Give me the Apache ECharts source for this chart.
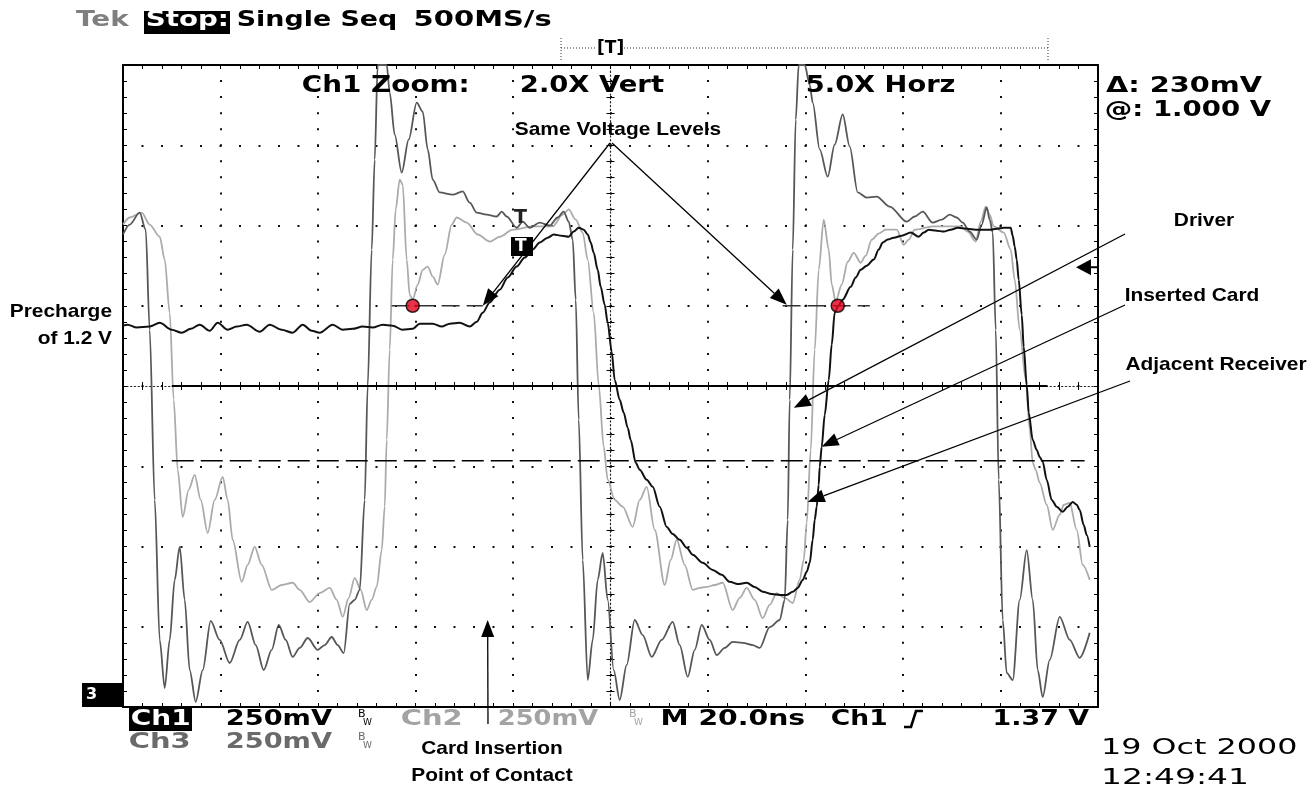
<!DOCTYPE html>
<html><head><meta charset="utf-8">
<script src="https://cdn.jsdelivr.net/npm/echarts@6/dist/echarts.min.js"></script>
<style>html,body{margin:0;padding:0;background:#fff;}#c{width:1310px;height:786px;}</style>
</head><body><div id="c"></div><script>
// ---- data: time in ns (4 ns/div after 5X zoom), volts (0.25 V/div) ----
const ch1 = [[0,1.188],[0.193,1.191],[0.562,1.182],[1.095,1.185],[1.506,1.197],[1.998,1.175],[2.408,1.166],[2.777,1.178],[3.147,1.191],[3.557,1.172],[3.885,1.197],[4.295,1.175],[4.665,1.185],[5.075,1.191],[5.608,1.169],[6.018,1.191],[6.511,1.175],[6.962,1.166],[7.372,1.191],[7.742,1.172],[8.070,1.166],[8.603,1.191],[9.014,1.175],[9.424,1.178],[9.834,1.185],[10.244,1.182],[10.654,1.191],[11.065,1.188],[11.475,1.175],[11.885,1.178],[12.172,1.194],[12.706,1.194],[13.075,1.185],[13.403,1.194],[13.813,1.197],[14.224,1.185],[14.511,1.200],[14.757,1.228],[15.044,1.260],[15.454,1.300],[15.783,1.338],[16.152,1.372],[16.480,1.400],[16.808,1.425],[17.096,1.447],[17.424,1.462],[17.670,1.472],[17.998,1.468],[18.286,1.465],[18.491,1.481],[18.696,1.493],[18.901,1.487],[19.065,1.472],[19.188,1.447],[19.311,1.415],[19.475,1.362],[19.598,1.309],[19.762,1.253],[19.885,1.197],[20.049,1.107],[20.172,1.019],[20.378,0.957],[20.542,0.917],[20.706,0.870],[20.829,0.832],[21.034,0.761],[21.198,0.739],[21.485,0.708],[21.732,0.686],[22.019,0.624],[22.306,0.561],[22.552,0.539],[22.839,0.521],[23.127,0.496],[23.373,0.474],[23.783,0.449],[24.193,0.427],[24.563,0.412],[24.891,0.390],[25.219,0.383],[25.588,0.387],[25.916,0.374],[26.244,0.359],[26.614,0.352],[26.942,0.349],[27.229,0.349],[27.476,0.359],[27.681,0.371],[27.886,0.396],[28.050,0.421],[28.173,0.449],[28.296,0.521],[28.378,0.583],[28.460,0.624],[28.542,0.692],[28.583,0.748],[28.665,0.811],[28.788,0.910],[28.953,1.019],[29.076,1.129],[29.198,1.228],[29.322,1.247],[29.526,1.269],[29.854,1.309],[30.060,1.338],[30.265,1.362],[30.511,1.375],[30.798,1.394],[31.004,1.425],[31.168,1.447],[31.373,1.456],[31.619,1.462],[31.947,1.468],[32.316,1.478],[32.644,1.465],[32.850,1.478],[33.055,1.487],[33.383,1.484],[33.670,1.481],[33.957,1.487],[34.245,1.493],[34.614,1.490],[34.983,1.487],[35.270,1.487],[35.558,1.487],[35.845,1.490],[36.132,1.493],[36.419,1.493],[36.501,1.468],[36.583,1.434],[36.665,1.394],[36.747,1.331],[36.870,1.222],[36.952,1.122],[37.076,1.004],[37.158,0.917],[37.322,0.832],[37.486,0.801],[37.609,0.779],[37.732,0.764],[37.896,0.708],[38.101,0.645],[38.306,0.624],[38.553,0.608],[38.758,0.624],[38.963,0.639],[39.127,0.630],[39.250,0.614],[39.414,0.567],[39.537,0.536],[39.660,0.499]];
const ch2 = [[0,1.503],[0.275,1.525],[0.767,1.540],[1.095,1.503],[1.506,1.465],[1.711,1.394],[1.916,1.228],[2.080,0.957],[2.244,0.739],[2.449,0.592],[2.695,0.677],[2.942,0.723],[3.188,0.645],[3.475,0.542],[3.762,0.645],[4.090,0.717],[4.295,0.645],[4.500,0.521],[4.870,0.390],[5.116,0.443],[5.403,0.499],[5.690,0.443],[6.101,0.365],[6.511,0.380],[6.962,0.387],[7.249,0.365],[7.660,0.327],[8.070,0.355],[8.480,0.371],[8.767,0.334],[9.014,0.281],[9.260,0.340],[9.506,0.402],[9.752,0.365],[9.998,0.302],[10.203,0.334],[10.408,0.374],[10.614,0.489],[10.737,0.624],[10.819,0.832],[10.942,1.113],[11.065,1.394],[11.188,1.550],[11.352,1.643],[11.475,1.627],[11.639,1.394],[11.762,1.284],[11.885,1.269],[12.090,1.316],[12.295,1.362],[12.501,1.372],[12.706,1.341],[12.911,1.316],[13.198,1.409],[13.485,1.503],[13.690,1.525],[14.101,1.509],[14.552,1.472],[15.044,1.450],[15.454,1.465],[15.988,1.487],[16.808,1.497],[17.629,1.497],[18.039,1.534],[18.286,1.550],[18.573,1.518],[18.860,1.478],[19.065,1.394],[19.311,1.228],[19.516,1.004],[19.721,0.811],[19.885,0.708],[20.172,0.645],[20.501,0.624],[20.911,0.561],[21.198,0.645],[21.485,0.686],[21.814,0.552],[22.224,0.380],[22.470,0.458],[22.716,0.521],[23.044,0.443],[23.373,0.365],[23.660,0.371],[23.947,0.374],[24.275,0.380],[24.604,0.387],[25.013,0.302],[25.301,0.340],[25.588,0.371],[25.916,0.334],[26.244,0.277],[26.532,0.318],[26.819,0.355],[27.147,0.340],[27.476,0.324],[27.763,0.396],[27.927,0.458],[28.050,0.574],[28.214,0.801],[28.378,1.113],[28.542,1.362],[28.747,1.518],[28.953,1.425],[29.076,1.316],[29.240,1.263],[29.486,1.316],[29.732,1.387],[29.978,1.415],[30.265,1.384],[30.470,1.406],[30.717,1.456],[31.004,1.475],[31.291,1.487],[31.742,1.487],[32.029,1.440],[32.234,1.456],[32.480,1.487],[33.219,1.497],[33.793,1.497],[34.368,1.497],[34.655,1.481],[34.983,1.450],[35.188,1.512],[35.393,1.559],[35.558,1.534],[35.722,1.497],[36.132,1.478],[36.419,1.425],[36.583,1.331],[36.788,1.175],[37.035,1.019],[37.199,0.864],[37.322,0.761],[37.445,0.739],[37.609,0.698],[37.896,0.630],[38.142,0.552],[38.430,0.599],[38.594,0.630],[38.840,0.636],[39.127,0.552],[39.373,0.443],[39.660,0.396]];
const ch3 = [[0,1.472],[0.275,1.503],[0.685,1.540],[0.931,1.487],[1.095,1.175],[1.301,0.645],[1.506,0.209],[1.711,0.059],[1.916,0.209],[2.121,0.396],[2.326,0.499],[2.531,0.334],[2.736,0.115],[2.983,0.016],[3.270,0.115],[3.598,0.268],[3.967,0.209],[4.377,0.137],[4.788,0.209],[5.116,0.265],[5.444,0.193],[5.772,0.115],[6.101,0.178],[6.388,0.256],[6.675,0.209],[6.962,0.156],[7.249,0.184],[7.578,0.215],[7.988,0.178],[8.275,0.193],[8.562,0.218],[8.808,0.193],[9.055,0.168],[9.301,0.321],[9.506,0.334],[9.711,0.365],[9.916,0.645],[10.039,1.001],[10.203,1.425],[10.326,1.705],[10.449,2.0],[10.819,2.0],[10.942,1.914],[11.147,1.783],[11.434,1.665],[11.721,1.768],[12.049,1.883],[12.295,1.855],[12.501,1.737],[12.706,1.643],[12.993,1.603],[13.526,1.596],[13.936,1.606],[14.224,1.571],[14.511,1.540],[14.921,1.534],[15.331,1.528],[15.537,1.543],[15.742,1.528],[16.152,1.493],[16.398,1.512],[16.685,1.493],[17.096,1.509],[17.506,1.500],[17.834,1.525],[18.080,1.543],[18.286,1.512],[18.450,1.456],[18.573,1.269],[18.696,0.895],[18.860,0.458],[19.065,0.084],[19.270,0.209],[19.475,0.396],[19.680,0.480],[19.885,0.334],[20.131,0.115],[20.378,0.022],[20.665,0.131],[20.993,0.271],[21.321,0.224],[21.691,0.156],[22.101,0.209],[22.552,0.265],[22.839,0.193],[23.168,0.094],[23.455,0.178],[23.742,0.256],[24.070,0.209],[24.357,0.162],[24.685,0.184],[25.013,0.203],[25.424,0.200],[25.834,0.193],[26.121,0.184],[26.532,0.249],[26.942,0.271],[27.147,0.334],[27.270,0.583],[27.352,0.957],[27.476,1.425],[27.599,1.830],[27.722,2.0],[27.968,2.0],[28.173,1.939],[28.296,1.883],[28.583,1.737],[28.911,1.652],[29.198,1.752],[29.526,1.846],[29.813,1.746],[30.142,1.603],[30.511,1.587],[30.921,1.590],[31.455,1.559],[32.152,1.512],[32.480,1.528],[32.808,1.543],[33.219,1.509],[33.588,1.518],[33.916,1.534],[34.203,1.525],[34.450,1.509],[34.737,1.481],[35.024,1.456],[35.229,1.503],[35.434,1.556],[35.558,1.518],[35.681,1.478],[35.804,1.175],[35.927,0.708],[36.091,0.271],[36.255,0.106],[36.501,0.084],[36.788,0.334],[37.076,0.489],[37.322,0.334],[37.527,0.115],[37.732,0.031],[38.019,0.147],[38.430,0.281],[38.840,0.209],[39.250,0.153],[39.660,0.231]];
const cursorSolid = [[2.0,1.000],[37.93,1.000]];
const cursorDashed = [[2.0,0.767],[39.45,0.767]];
const levelLeft = [[11.02,1.25],[14.76,1.25]];
const levelRight = [[27.06,1.25],[30.64,1.25]];
const sameLevelDots = [[11.885,1.25],[29.322,1.25]];
const triggerLevel = 1.37;
const tipSameLeft = [14.76,1.25];
const tipSameRight = [27.23,1.253];
const tipDriver = [27.52,0.932];
const tipInserted = [28.66,0.811];
const tipReceiver = [28.09,0.639];
const tipContact = [14.96,0.271];
const xTicks = {min:0,max:40,interval:4};
const yTicks = {min:0,max:2,interval:0.25};

const GRID = {left:123, top:65, width:975, height:642};
const chart = echarts.init(document.getElementById('c'), null, {renderer:'canvas'});

function baseAxis(t, extra){
  return Object.assign({type:'value', min:t.min, max:t.max, interval:t.interval,
    axisLabel:{show:false}, splitLine:{show:false},
    axisLine:{show:true, onZero:false, lineStyle:{color:'#000', width:2}},
    axisTick:{show:true, inside:true, length:4, lineStyle:{color:'#000', width:1}},
    minorTick:{show:true, splitNumber:5, length:4, lineStyle:{color:'#000', width:1}}}, extra);
}
const centerLine = {show:true, onZero:false, lineStyle:{color:'#222', width:1.2, type:[1.2,2.6]}};
const trace = (data, color, width, z) => ({type:'line', data, showSymbol:false, smooth:0.3, smoothMonotone:'x',
  lineStyle:{color, width}, z});

const option = {
  animation:false,
  backgroundColor:'#fff',
  grid: Object.assign({containLabel:false}, GRID),
  xAxis:[
    baseAxis(xTicks,{position:'bottom', splitLine:{show:true, lineStyle:{color:'#111', width:2, type:[2,14.05], dashOffset:1}}}),
    baseAxis(xTicks,{position:'top'}),
    baseAxis(xTicks,{position:'bottom', offset:-321, axisLine:centerLine}),
    baseAxis(xTicks,{position:'bottom', offset:-321, axisLine:{show:false}, axisTick:{show:true, inside:false, length:4, lineStyle:{color:'#000'}}})
  ],
  yAxis:[
    baseAxis(yTicks,{position:'left', splitLine:{show:true, lineStyle:{color:'#111', width:2, type:[2,17.5], dashOffset:1}}}),
    baseAxis(yTicks,{position:'right'}),
    baseAxis(yTicks,{position:'left', offset:-487.5, axisLine:centerLine}),
    baseAxis(yTicks,{position:'left', offset:-487.5, axisLine:{show:false}, axisTick:{show:true, inside:false, length:4, lineStyle:{color:'#000'}}})
  ],
  series:[
    trace(ch2, '#ababab', 1.8, 2),
    trace(ch3, '#575757', 1.8, 3),
    trace(ch1, '#111111', 2, 4),
    {type:'line', data:cursorSolid, showSymbol:false, lineStyle:{color:'#000', width:2.2}, z:5},
    {type:'line', data:cursorDashed, showSymbol:false, lineStyle:{color:'#000', width:1.6, type:[22,7]}, z:5},
    {type:'line', data:levelLeft, showSymbol:false, lineStyle:{color:'#333', width:1.6, type:[18,7]}, z:5},
    {type:'line', data:levelRight, showSymbol:false, lineStyle:{color:'#333', width:1.6, type:[18,7]}, z:5},
    {type:'scatter', data:sameLevelDots, symbolSize:13, itemStyle:{color:'#e3001b', borderColor:'#000', borderWidth:1.5}, z:6}
  ]
};
chart.setOption(option);

// ---- text helpers ----
const meas = document.createElement('canvas').getContext('2d');
function fitText(str, x1, x2, cy, size, color, family, weight){
  family = family || '"DejaVu Sans"'; weight = weight || 'bold';
  const font = weight + ' ' + size + 'px ' + family;
  meas.font = font;
  const m = meas.measureText(str);
  const ink = m.actualBoundingBoxLeft + m.actualBoundingBoxRight;
  const sx = (x2 - x1) / ink;
  return {type:'text', x: x1 + m.actualBoundingBoxLeft*sx, y: cy, scaleX: sx, z:100,
    style:{text:str, font:font, fill:color, align:'left', verticalAlign:'middle'}};
}
function centerText(str, cx, cy, size, sx){
  const font = 'bold ' + size + 'px "Liberation Sans", Arial, sans-serif';
  meas.font = font;
  const w = meas.measureText(str).width * sx;
  return {type:'text', x: cx - w/2, y: cy, scaleX: sx, z:100,
    style:{text:str, font:font, fill:'#000', align:'left', verticalAlign:'middle'}};
}
function rightText(str, rx, cy, size, sx){
  const font = 'bold ' + size + 'px "Liberation Sans", Arial, sans-serif';
  meas.font = font;
  const w = meas.measureText(str).width * sx;
  return {type:'text', x: rx - w, y: cy, scaleX: sx, z:100,
    style:{text:str, font:font, fill:'#000', align:'left', verticalAlign:'middle'}};
}
function arrow(tail, tip){
  const dx = tip[0]-tail[0], dy = tip[1]-tail[1];
  const L = Math.sqrt(dx*dx+dy*dy), ux = dx/L, uy = dy/L;
  const len = 17, hw = 6.5;
  const bx = tip[0]-ux*len, by = tip[1]-uy*len;
  return [
    {type:'line', z:90, shape:{x1:tail[0], y1:tail[1], x2:bx, y2:by}, style:{stroke:'#000', lineWidth:1.3}},
    {type:'polygon', z:90, shape:{points:[[tip[0],tip[1]],[bx-uy*hw,by+ux*hw],[bx+uy*hw,by-ux*hw]]}, style:{fill:'#000'}}
  ];
}
const px = p => chart.convertToPixel({gridIndex:0}, p);

const LIGHT = '#a3a3a3', DARK = '#6a6a6a';
const g = [];
// header
g.push(fitText('Tek', 76, 130, 21, 21, '#7f7f7f'));
g.push({type:'rect', z:99, shape:{x:144, y:11, width:86, height:23}, style:{fill:'#000'}});
g.push(fitText('Stop:', 147, 227, 21, 21, '#fff'));
g.push(fitText('Single Seq', 238, 396, 21, 21, '#000'));
g.push(fitText('500MS/s', 415, 551, 21, 21, '#000'));
// zoom window marker
g.push({type:'line', z:90, shape:{x1:561, y1:48, x2:1048, y2:48}, style:{stroke:'#333', lineWidth:1, lineDash:[1,2]}});
g.push({type:'line', z:90, shape:{x1:561, y1:38, x2:561, y2:60}, style:{stroke:'#333', lineWidth:1, lineDash:[1,2]}});
g.push({type:'line', z:90, shape:{x1:1048, y1:38, x2:1048, y2:60}, style:{stroke:'#333', lineWidth:1, lineDash:[1,2]}});
g.push({type:'rect', z:91, shape:{x:596, y:39, width:28, height:19}, style:{fill:'#fff'}});
g.push(fitText('[T]', 598, 623, 48, 18, '#000'));
// graticule readouts
g.push(fitText('Ch1 Zoom:', 303, 467, 86.5, 23, '#000'));
g.push(fitText('2.0X Vert', 521, 664, 86.5, 23, '#000'));
g.push(fitText('5.0X Horz', 807, 955, 86.5, 23, '#000'));
g.push(fitText('\u0394: 230mV', 1106, 1262, 86, 22, '#000'));
g.push(fitText('@: 1.000 V', 1106, 1271, 110, 22, '#000'));
// bottom readouts
g.push({type:'rect', z:99, shape:{x:129, y:708, width:63, height:23}, style:{fill:'#000'}});
g.push(fitText('Ch1', 132, 189, 719, 22, '#fff'));
g.push(fitText('250mV', 227, 332, 719, 22, '#000'));
g.push(fitText('Ch2', 402, 461, 719, 22, LIGHT));
g.push(fitText('250mV', 499, 598, 719, 22, LIGHT));
g.push(fitText('M 20.0ns', 663, 805, 719, 22, '#000'));
g.push(fitText('Ch1', 832, 886, 719, 22, '#000'));
g.push(fitText('1.37 V', 995, 1089, 719, 22, '#000'));
g.push(fitText('Ch3', 130, 189, 742, 22, DARK));
g.push(fitText('250mV', 227, 332, 742, 22, DARK));
[[358,719,'#000'],[629,719,LIGHT],[358,742,DARK]].forEach(b=>{
  g.push({type:'text', x:b[0], y:b[1]-5, z:100, style:{text:'B', font:'11px "DejaVu Sans"', fill:b[2], verticalAlign:'middle'}});
  g.push({type:'text', x:b[0]+5, y:b[1]+4, z:100, style:{text:'W', font:'9px "DejaVu Sans"', fill:b[2], verticalAlign:'middle'}});
});
g.push({type:'polyline', z:100, shape:{points:[[904,727],[911,727],[916,711],[923,711]]}, style:{stroke:'#000', lineWidth:2.6, fill:null}});
g.push(fitText('19 Oct 2000', 1104, 1296, 748, 22, '#000', '"DejaVu Sans"', 'normal'));
g.push(fitText('12:49:41', 1104, 1246, 778, 22, '#000', '"DejaVu Sans"', 'normal'));
// ground marker for Ch3 at left
g.push({type:'rect', z:99, shape:{x:82, y:683, width:42, height:24}, style:{fill:'#000'}});
g.push({type:'text', x:86, y:695, z:100, style:{text:'3', font:'bold 16px "DejaVu Sans"', fill:'#fff', verticalAlign:'middle'}});
// trigger markers
g.push({type:'text', x:514, y:218, z:100, style:{text:'T', font:'bold 19px "DejaVu Sans"', fill:'#222', verticalAlign:'middle'}});
g.push({type:'rect', z:99, shape:{x:511, y:237, width:22, height:19}, style:{fill:'#000'}});
g.push({type:'text', x:515, y:247, z:100, style:{text:'T', font:'bold 17px "DejaVu Sans"', fill:'#fff', verticalAlign:'middle'}});
const trigY = px([40, triggerLevel])[1];
g.push({type:'polygon', z:100, shape:{points:[[1076,trigY],[1091,trigY-8],[1091,trigY+8]]}, style:{fill:'#000'}});
g.push({type:'line', z:100, shape:{x1:1090, y1:trigY, x2:1098, y2:trigY}, style:{stroke:'#000', lineWidth:2}});
// annotations
g.push(centerText('Same Voltage Levels', 618, 130, 19, 1.1));
g.push(centerText('Driver', 1204, 221, 19, 1.1));
g.push(centerText('Inserted Card', 1192, 296, 19, 1.1));
g.push(centerText('Adjacent Receiver', 1216, 365, 19, 1.1));
g.push(rightText('Precharge', 112, 312, 19, 1.1));
g.push(rightText('of 1.2 V', 112, 339, 19, 1.1));
g.push(centerText('Card Insertion', 492, 749, 19, 1.1));
g.push(centerText('Point of Contact', 492, 776, 19, 1.1));
arrow([610,143], px(tipSameLeft)).forEach(e=>g.push(e));
arrow([612,143], px(tipSameRight)).forEach(e=>g.push(e));
arrow([1125,234], px(tipDriver)).forEach(e=>g.push(e));
arrow([1125,305], px(tipInserted)).forEach(e=>g.push(e));
arrow([1130,381], px(tipReceiver)).forEach(e=>g.push(e));
arrow([488,724], px(tipContact)).forEach(e=>g.push(e));

chart.setOption({graphic: g});
</script></body></html>
